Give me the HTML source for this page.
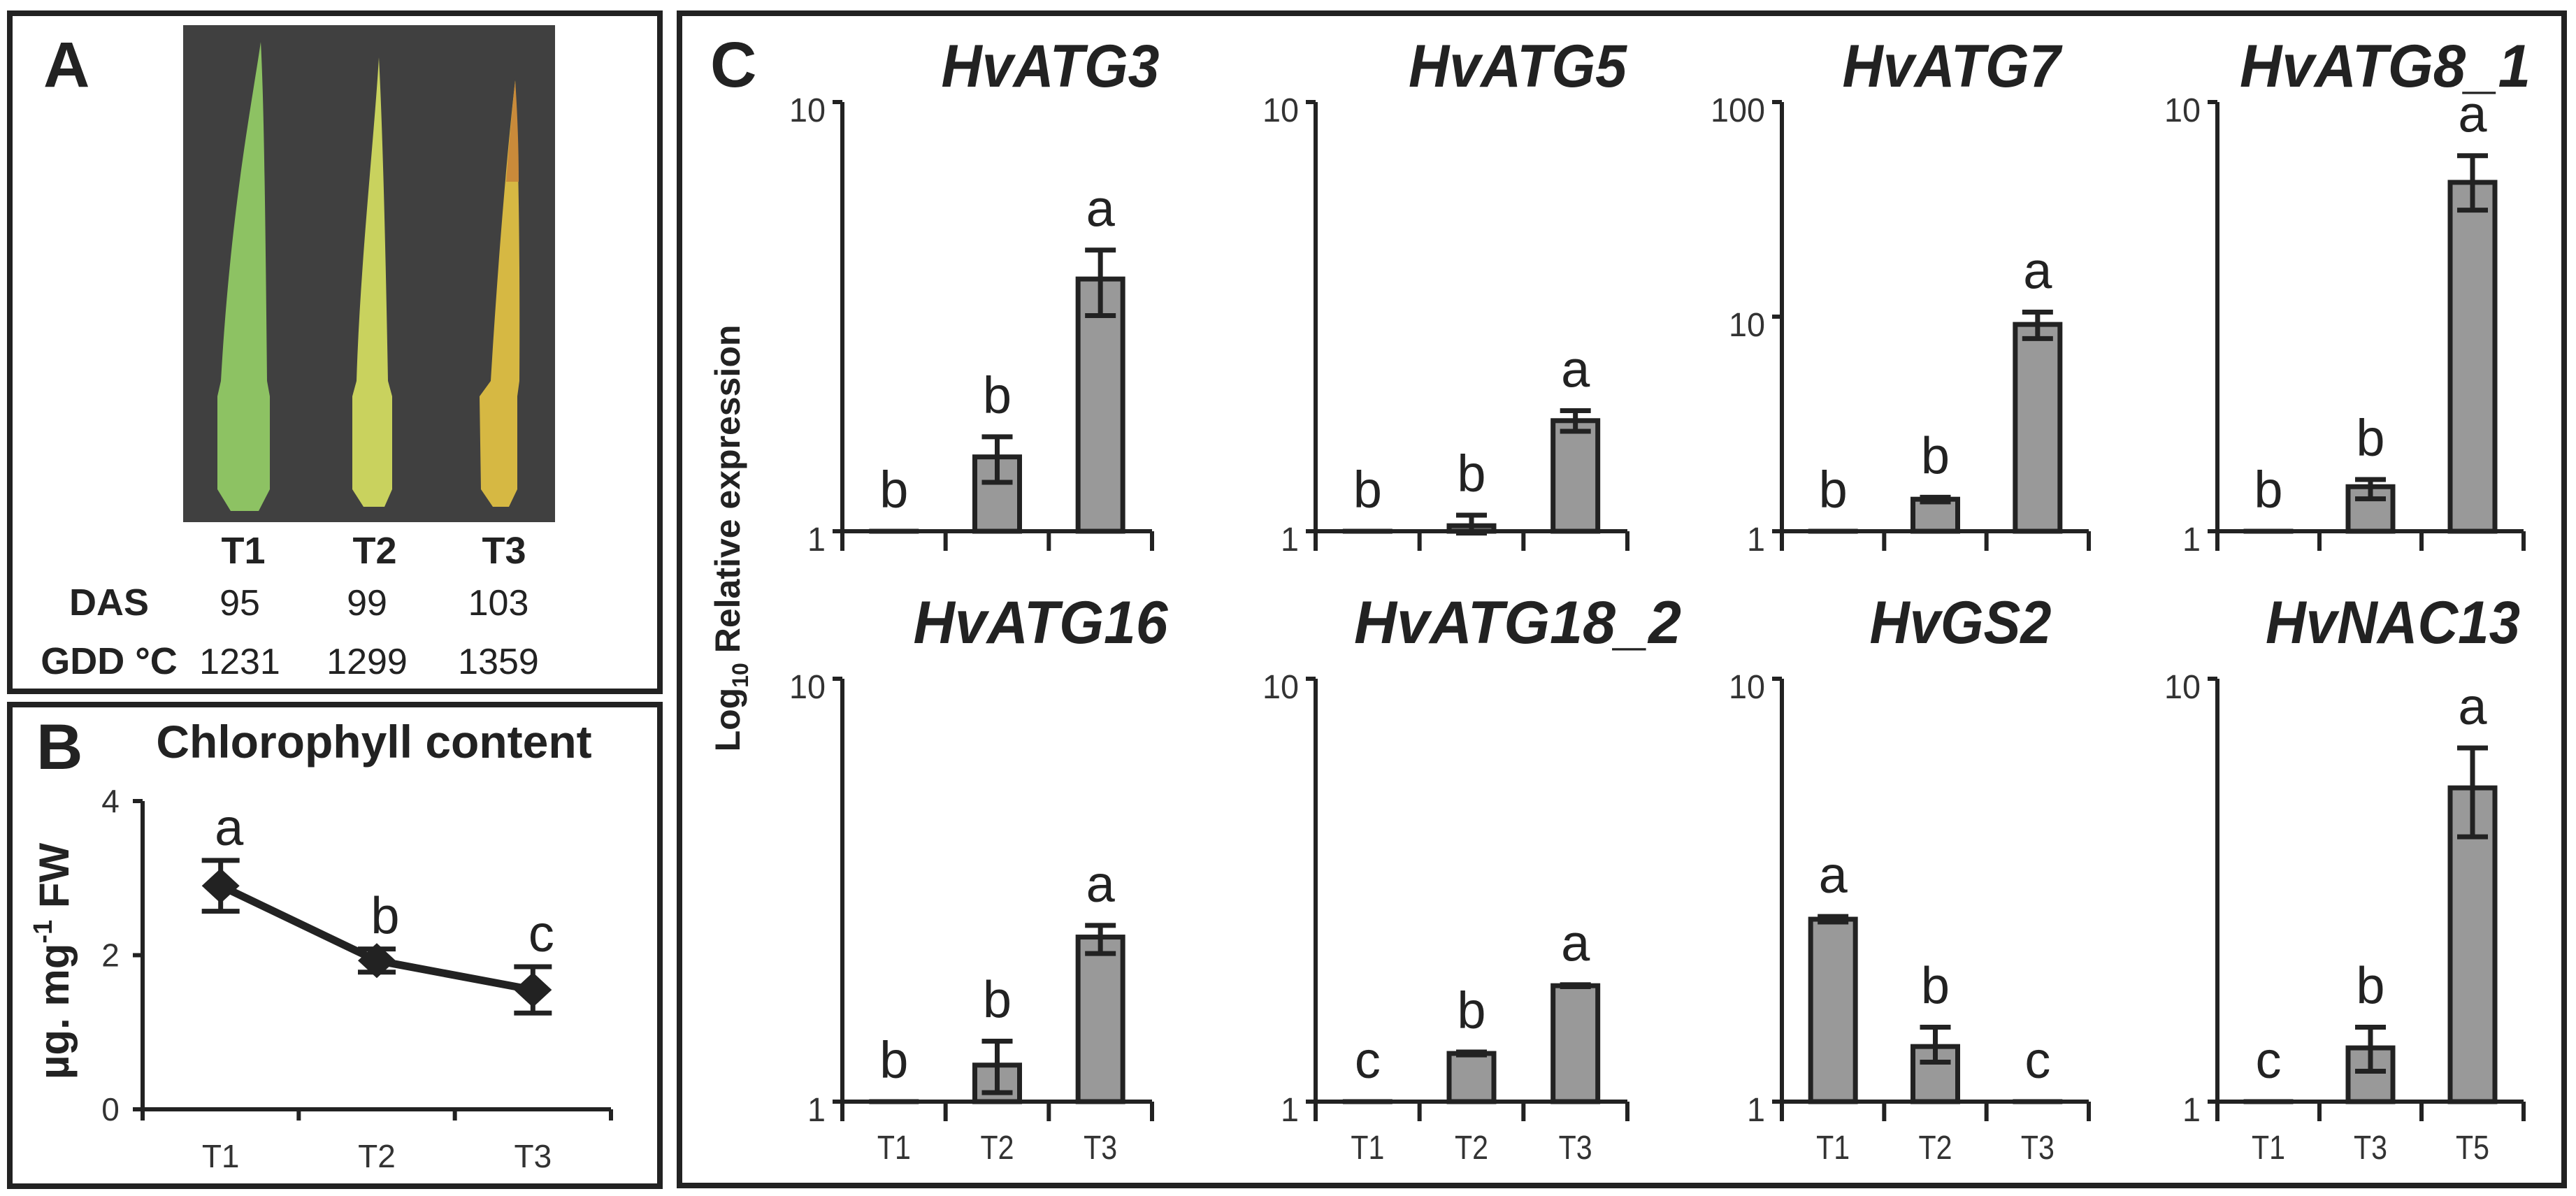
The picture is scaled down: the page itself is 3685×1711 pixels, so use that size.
<!DOCTYPE html>
<html><head><meta charset="utf-8">
<style>
html,body{margin:0;padding:0;background:#fff;}
svg{display:block;}
text{font-family:"Liberation Sans",Arial,sans-serif;}
</style></head>
<body>
<svg id="fig" width="3685" height="1711" viewBox="0 0 3685 1711" xmlns="http://www.w3.org/2000/svg">
  <rect x="0" y="0" width="3685" height="1711" fill="#fff"/>
  <!-- Panel A -->
  <g>
    <rect x="14" y="19" width="930" height="970" fill="none" stroke="#222" stroke-width="8"/>
    <text x="62" y="124" font-size="92" font-weight="bold" fill="#222">A</text>
    <rect x="262" y="36" width="532" height="711" fill="#404040"/>
    <path d="M373,60 C360,150 330,300 316,545 L311,567 L311,700 L330,731 L370,731 L386,700 L386,567 L382,545 C380,350 378,150 373,60 Z" fill="#8dc263"/>
    <path d="M542,82 C535,200 515,380 510,545 L504,567 L504,700 L520,725 L550,725 L561,700 L561,567 L555,545 C552,380 548,200 542,82 Z" fill="#c9d25e"/>
    <path d="M737,115 C725,220 712,380 702,545 L686,567 L688,700 L705,725 L728,725 L740,700 L740,567 L743,545 C744,380 742,220 737,115 Z" fill="#d6b843"/>
    <path d="M737,115 C731,170 727,220 724,260 L742,260 C742,210 740,160 737,115 Z" fill="#c98a3a"/>
    <g font-size="54" font-weight="bold" fill="#222" text-anchor="middle">
      <text x="348" y="806">T1</text>
      <text x="536" y="806">T2</text>
      <text x="721" y="806">T3</text>
      <text x="156" y="880">DAS</text>
      <text x="156" y="964">GDD °C</text>
    </g>
    <g font-size="52" fill="#222" text-anchor="middle">
      <text x="343" y="880">95</text>
      <text x="525" y="880">99</text>
      <text x="713" y="880">103</text>
      <text x="343" y="964">1231</text>
      <text x="525" y="964">1299</text>
      <text x="713" y="964">1359</text>
    </g>
  </g>
  <!-- Panel B -->
  <g id="panelB">
    <rect x="14" y="1008" width="930" height="689" fill="none" stroke="#222" stroke-width="8"/>
    <text x="52" y="1100" font-size="92" font-weight="bold" fill="#222">B</text>
    <text x="535" y="1084" font-size="66" font-weight="bold" fill="#222" text-anchor="middle">Chlorophyll content</text>
    <text transform="translate(98,1375) rotate(-90)" font-size="60" font-weight="bold" fill="#222" text-anchor="middle">µg. mg<tspan font-size="38" dy="-24">-1</tspan><tspan dy="24"> FW</tspan></text>
  </g>
  <!-- Panel C -->
  <g id="panelC">
    <rect x="972" y="19" width="2696" height="1677" fill="none" stroke="#222" stroke-width="8"/>
    <text x="1016" y="124" font-size="92" font-weight="bold" fill="#222">C</text>
    <text transform="translate(1058,770) rotate(-90)" font-size="50" font-weight="bold" fill="#222" text-anchor="middle">Log<tspan font-size="32" dy="12">10</tspan><tspan dy="-12"> Relative  expression</tspan></text>
  </g>
</svg>
<script>
// ---------- Panel B data ----------
const chlCategories = ["T1", "T2", "T3"];
const chlMeans = [2.9, 1.93, 1.55];
const chlErrors = [0.33, 0.15, 0.3];
const chlLetters = ["a", "b", "c"];
const chlTicks = [0, 2, 4];

// ---------- Panel C data ----------
const geneNames = ["HvATG3", "HvATG5", "HvATG7", "HvATG8_1", "HvATG16", "HvATG18_2", "HvGS2", "HvNAC13"];
const geneCategories = [["T1","T2","T3"],["T1","T2","T3"],["T1","T2","T3"],["T1","T2","T3"],["T1","T2","T3"],["T1","T2","T3"],["T1","T2","T3"],["T1","T3","T5"]];
const geneMeans = [[1.0,1.49,3.87],[1.0,1.03,1.81],[1.0,1.41,9.2],[1.0,1.27,6.5],[1.0,1.22,2.45],[1.0,1.30,1.88],[2.70,1.35,1.0],[1.0,1.34,5.52]];
const geneUpper = [[1.0,1.66,4.52],[1.0,1.09,1.91],[1.0,1.44,10.5],[1.0,1.32,7.5],[1.0,1.39,2.61],[1.0,1.31,1.89],[2.74,1.50,1.0],[1.0,1.50,6.86]];
const geneLower = [[1.0,1.30,3.18],[1.0,0.99,1.71],[1.0,1.37,7.9],[1.0,1.19,5.6],[1.0,1.05,2.24],[1.0,1.29,1.87],[2.66,1.24,1.0],[1.0,1.18,4.23]];
const geneLetters = [["b","b","a"],["b","b","a"],["b","b","a"],["b","b","a"],["b","b","a"],["c","b","a"],["a","b","c"],["c","b","a"]];
const geneAxisMax = [10,10,100,10,10,10,10,10];
const geneTickLabels = [["1","10"],["1","10"],["1","10","100"],["1","10"],["1","10"],["1","10"],["1","10"],["1","10"]];

const NS = "http://www.w3.org/2000/svg";
function mk(parent, tag, attrs) {
  const e = document.createElementNS(NS, tag);
  for (const k in attrs) e.setAttribute(k, attrs[k]);
  parent.appendChild(e);
  return e;
}
const STROKE = "#222";

// ---------- Panel B ----------
(function(){
  const g = document.getElementById("panelB");
  const x0 = 204, x1 = 874, yBase = 1587, yTopPx = 1146, yMax = 4;
  const yS = v => yBase - (v / yMax) * (yBase - yTopPx);
  const step = (x1 - x0) / chlCategories.length;
  const xS = i => x0 + step * (i + 0.5);
  const ax = mk(g, "line", {x1:x0, y1:yTopPx, x2:x0, y2:yBase, stroke:STROKE, "stroke-width":6});
  
  
  const xa = mk(g, "line", {x1:x0, y1:yBase, x2:x1, y2:yBase, stroke:STROKE, "stroke-width":6});
  
  
  chlTicks.forEach(t => {
    const y = yS(t);
    const tl = mk(g, "line", {x1:x0-14, y1:y, x2:x0, y2:y, stroke:STROKE, "stroke-width":6});
    
    
    const tx = mk(g, "text", {x:158, y:y+16, "font-size":46, fill:"#333", "text-anchor":"middle"});
    tx.textContent = t;
    
    
  });
  for (let i = 0; i <= chlCategories.length; i++) {
    const x = x0 + step * i;
    const tk = mk(g, "line", {x1:x, y1:yBase, x2:x, y2:yBase+16, stroke:STROKE, "stroke-width":6});
    
    
  }
  chlCategories.forEach((c, i) => {
    const tx = mk(g, "text", {x:xS(i), y:1670, "font-size":46, fill:"#333", "text-anchor":"middle"});
    tx.textContent = c;
    
    
  });
  const pts = chlMeans.map((v, i) => xS(i) + "," + yS(v)).join(" ");
  const ln = mk(g, "polyline", {points:pts, fill:"none", stroke:STROKE, "stroke-width":11});
  
  
  chlMeans.forEach((v, i) => {
    const x = xS(i), hi = yS(v + chlErrors[i]), lo = yS(v - chlErrors[i]);
    const eb = mk(g, "path", {d:`M${x},${hi}V${lo}M${x-27},${hi}H${x+27}M${x-27},${lo}H${x+27}`, stroke:STROKE, "stroke-width":7, fill:"none"});
    
    
    const y = yS(v);
    const dm = mk(g, "path", {d:`M${x-27},${y}L${x},${y-25}L${x+27},${y}L${x},${y+25}Z`, fill:STROKE});
    
    
    const lt = mk(g, "text", {x:x + 12, y:hi - 22, "font-size":74, fill:"#222", "text-anchor":"middle"});
    lt.textContent = chlLetters[i];
    
    
  });
})();

// ---------- Panel C ----------
(function(){
  const g = document.getElementById("panelC");
  const colX0 = [1205, 1882, 2549, 3172];
  const colX1 = [1648, 2328, 2988, 3610];
  const rowTop = [146, 971];
  const rowBot = [760, 1576];
  const titleY = [124, 920];
  const titleShift = [76, 66, 23, 21, 62, 66, 36, 32];
  geneNames.forEach((name, k) => {
    const col = k % 4, row = Math.floor(k / 4);
    const x0 = colX0[col], x1 = colX1[col], yT = rowTop[row], yB = rowBot[row];
    const decades = Math.log10(geneAxisMax[k]);
    const yS = v => yB - (Math.log10(v) / decades) * (yB - yT);
    const cats = geneCategories[k];
    const step = (x1 - x0) / cats.length;
    const xS = i => x0 + step * (i + 0.5);
    const cg = mk(g, "g", {});
    
    
    const tt = mk(cg, "text", {x:(x0 + x1) / 2 + titleShift[k], y:titleY[row], "font-size":86, "font-weight":"bold", "font-style":"italic", fill:"#222", "text-anchor":"middle", textLength:name.length * 52, lengthAdjust:"spacingAndGlyphs"});
    tt.textContent = name;
    
    
    geneMeans[k].forEach((v, i) => {
      const x = xS(i), w = 64, y = yS(v);
      const b = mk(cg, "rect", {x:x - w/2, y:y, width:w, height:Math.max(yB - y, 0.01), fill:"#999", stroke:STROKE, "stroke-width":7});
      
      
      const hi = yS(geneUpper[k][i]), lo = yS(geneLower[k][i]);
      if (Math.abs(lo - hi) > 2) {
        const eb = mk(cg, "path", {d:`M${x},${hi}V${lo}M${x-22},${hi}H${x+22}M${x-22},${lo}H${x+22}`, stroke:STROKE, "stroke-width":7, fill:"none"});
        
        
      }
      const lt = mk(cg, "text", {x:x, y:Math.min(hi, y) - 34, "font-size":74, fill:"#222", "text-anchor":"middle"});
      lt.textContent = geneLetters[k][i];
      
      
    });
    const ya = mk(cg, "line", {x1:x0, y1:yT, x2:x0, y2:yB, stroke:STROKE, "stroke-width":6});
    
    
    const xa = mk(cg, "line", {x1:x0, y1:yB, x2:x1, y2:yB, stroke:STROKE, "stroke-width":6});
    
    
    geneTickLabels[k].forEach(lbl => {
      const y = yS(parseFloat(lbl));
      const tl = mk(cg, "line", {x1:x0 - 14, y1:y, x2:x0, y2:y, stroke:STROKE, "stroke-width":6});
      
      
      const tx = mk(cg, "text", {x:x0 - 24, y:y + 28, "font-size":48, fill:"#333", "text-anchor":"end", textLength:lbl.length * 26, lengthAdjust:"spacingAndGlyphs"});
      tx.textContent = lbl;
      
      
    });
    for (let i = 0; i <= cats.length; i++) {
      const x = x0 + step * i;
      const tk = mk(cg, "line", {x1:x, y1:yB, x2:x, y2:yB + 28, stroke:STROKE, "stroke-width":6});
      
      
    }
    if (row === 1) {
      cats.forEach((c, i) => {
        const tx = mk(cg, "text", {x:xS(i), y:yB + 82, "font-size":48, fill:"#333", "text-anchor":"middle", textLength:48, lengthAdjust:"spacingAndGlyphs"});
        tx.textContent = c;
        
        
      });
    }
  });
})();
</script>
</body></html>
